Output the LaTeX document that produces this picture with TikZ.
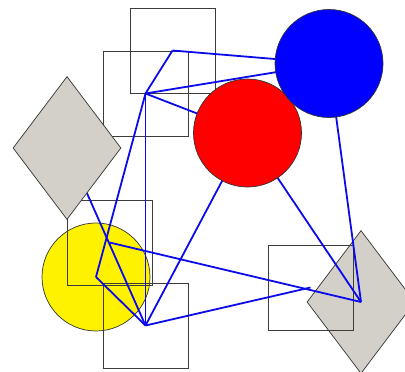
\documentclass[tikz,border=0pt]{standalone}
\usetikzlibrary{shapes.geometric}
\definecolor{diagray}{RGB}{211,208,202}
\definecolor{edgeblue}{RGB}{10,10,235}
\definecolor{sqline}{RGB}{60,60,60}
\tikzset{
  sq/.style={draw=sqline, line width=0.9pt, minimum size=85pt, inner sep=0pt},
  circ/.style={circle, draw=black!80, line width=0.7pt, minimum size=108pt, inner sep=0pt},
  dia/.style={diamond, draw=black!80, fill=diagray, line width=0.7pt, minimum width=108pt, minimum height=143pt, inner sep=0pt},
  edge/.style={draw=edgeblue, line width=1.8pt}
}
\begin{document}
\begin{tikzpicture}[x=1pt,y=-1pt]
\useasboundingbox (0,0) rectangle (405,372);
% lower layer
\node[circ, fill=yellow] (y) at (96,277) {};
\node[dia] (d2) at (361,302) {};
\node[sq] (s1) at (172.5,50.5) {};
\node[sq] (s2) at (145.5,93.5) {};
\node[sq] (s3) at (109.5,242.5) {};
\node[sq] (s4) at (145.5,325.5) {};
\node[sq] (s5) at (310.5,287.5) {};
% hidden centers for upper shapes
\coordinate (bc) at (329,63.5);
\coordinate (rc) at (247.5,133);
\coordinate (d1c) at (67,148);
% edges
\draw[edge] (s1.center) -- (bc);
\draw[edge] (s2.center) -- (bc);
\draw[edge] (s1.center) -- (s2.center);
\draw[edge] (s2.center) -- (rc);
\draw[edge] (s2.center) -- (y.center);
\draw[edge] (s2.center) -- (s4.center);
\draw[edge] (y.center) -- (s4.center);
\draw[edge] (d1c) -- (s4.center);
\draw[edge] (s3.center) -- (d2.center);
\draw[edge] (s4.center) -- (rc);
\draw[edge] (s4.center) -- (s5.center);
\draw[edge] (rc) -- (d2.center);
\draw[edge] (bc) -- (d2.center);
% upper layer
\node[dia] (d1) at (d1c) {};
\node[circ, fill=red] (r) at (rc) {};
\node[circ, fill=blue] (b) at (bc) {};
\end{tikzpicture}
\end{document}
